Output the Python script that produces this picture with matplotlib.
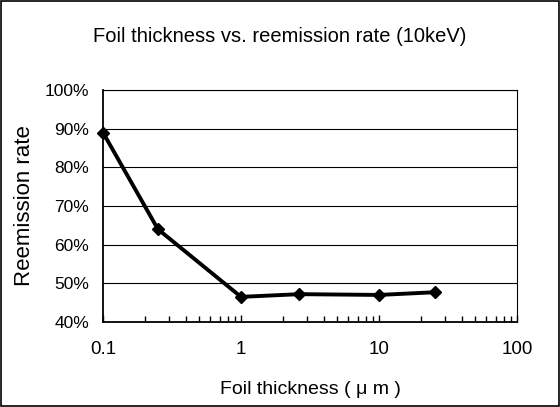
import matplotlib
matplotlib.use("Agg")
import matplotlib.pyplot as plt
from matplotlib.patches import Rectangle
from matplotlib.ticker import FuncFormatter, LogLocator, NullFormatter

thickness = [0.1, 0.25, 1.0, 2.65, 10.0, 25.5]
reemission = [0.89, 0.64, 0.465, 0.472, 0.47, 0.477]
y_ticks = [0.4, 0.5, 0.6, 0.7, 0.8, 0.9, 1.0]
x_ticks = [0.1, 1, 10, 100]
x_tick_labels = ["0.1", "1", "10", "100"]

plt.rcParams['font.family'] = ['Liberation Sans', 'DejaVu Sans']
fig = plt.figure(figsize=(5.6, 4.07), dpi=100)
fig.patches.append(Rectangle((0.002, 0.002), 0.996, 0.996, transform=fig.transFigure,
                             fill=False, edgecolor='black', linewidth=1.2))
ax = fig.add_axes([103/560, 1-322/407, (517-103)/560, (322-90)/407])
ax.set_xscale('log')
ax.set_xlim(0.1, 100)
ax.set_ylim(0.4, 1.0)
ax.set_yticks(y_ticks)
ax.yaxis.set_major_formatter(FuncFormatter(lambda v, p: f"{v*100:.0f}%"))
ax.set_xticks(x_ticks)
ax.set_xticklabels(x_tick_labels)
ax.xaxis.set_minor_locator(LogLocator(base=10, subs=range(2, 10)))
ax.xaxis.set_minor_formatter(NullFormatter())
ax.tick_params(axis='x', which='major', direction='in', length=5, width=1, labelsize=13.5, pad=14)
ax.tick_params(axis='x', which='minor', direction='in', length=4, width=1)
ax.tick_params(axis='y', length=0, labelsize=12.5, pad=10)
ax.grid(axis='y', color='black', linewidth=0.8)
for s in ['top', 'right']:
    ax.spines[s].set_linewidth(0.8)
for s in ['left', 'bottom']:
    ax.spines[s].set_linewidth(1.3)
ax.plot(thickness, reemission, color='black', linewidth=2.8, marker='D', markersize=6,
        clip_on=False, zorder=5)
ax.set_xlabel("Foil thickness ( μ m )", fontsize=14)
ax.xaxis.set_label_coords(0.5, -(389-322)/232, transform=ax.transAxes)
ax.xaxis.label.set_va('center')
ax.set_ylabel("Reemission rate", fontsize=16)
ax.yaxis.set_label_coords(-(103-25)/414, 0.5, transform=ax.transAxes)
ax.yaxis.label.set_va('center')
fig.text(0.5, 1-36/407, "Foil thickness vs. reemission rate (10keV)", ha='center', va='center', fontsize=14.5)
fig.savefig("out.png", dpi=100)
